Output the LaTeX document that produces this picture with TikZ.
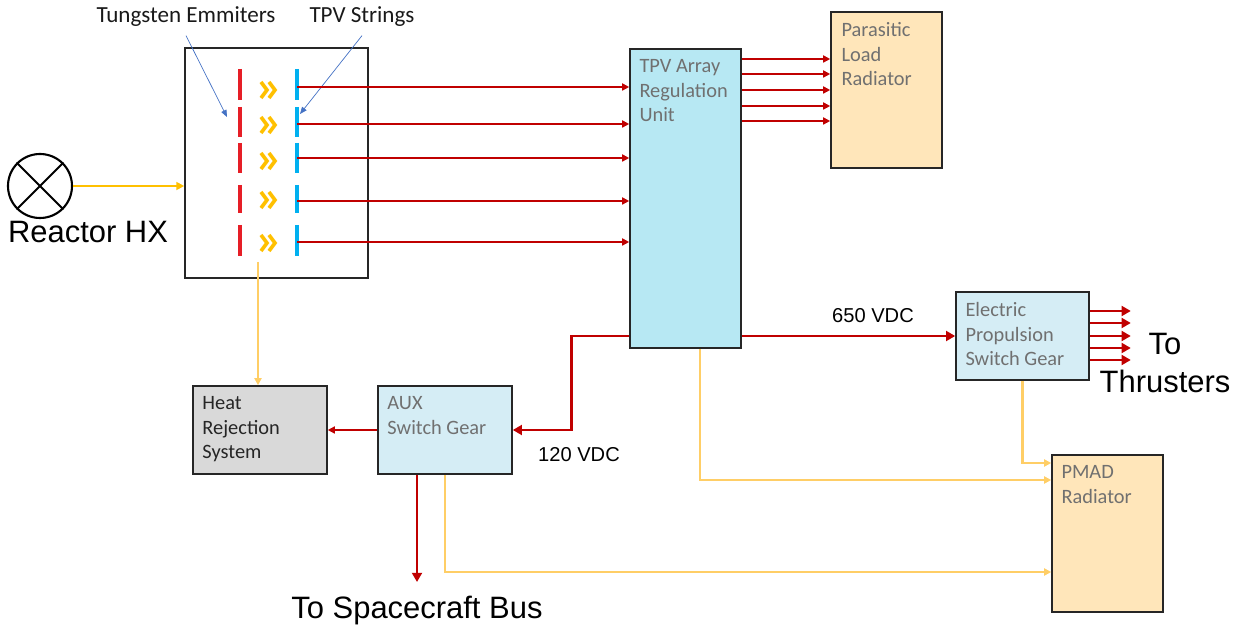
\documentclass[tikz,border=0pt]{standalone}
\usepackage{fontspec}
\setmainfont{Carlito}
\newfontfamily\arialfont{Liberation Sans}
\usepackage{xcolor}
\usetikzlibrary{arrows.meta,positioning}
\definecolor{pwrred}{RGB}{192,0,0}
\definecolor{emitred}{RGB}{230,30,38}
\definecolor{strblue}{RGB}{0,176,240}
\definecolor{heatdk}{RGB}{255,192,0}
\definecolor{heatlt}{RGB}{255,206,102}
\definecolor{noteblue}{RGB}{68,114,196}
\definecolor{tpvfill}{RGB}{183,232,243}
\definecolor{swfill}{RGB}{213,237,245}
\definecolor{peach}{RGB}{255,230,186}
\definecolor{hrsfill}{RGB}{217,217,217}
\definecolor{boxgray}{RGB}{112,112,112}

\begin{document}
\begin{tikzpicture}[x=0.025cm, y=-0.025cm,
  box/.style={draw=black!85, line width=1.1pt, inner sep=0pt},
  lbl/.style={anchor=north west, inner sep=0pt, align=left,
              font=\fontsize{14.5}{17.5}\selectfont, text=boxgray},
  pwr/.style={-{Triangle[length=5pt,width=5pt]}, pwrred, line width=1.1pt},
  bus/.style={-{Triangle[length=6.5pt,width=7pt]}, pwrred, line width=2.1pt},
  heat/.style={-{Triangle[length=5pt,width=5pt]}, heatlt, line width=1.6pt},
  note/.style={-{Triangle[length=5pt,width=4pt]}, noteblue, line width=0.5pt},
  big/.style={font=\arialfont\fontsize{22}{26.5}\selectfont, inner sep=0pt},
  volt/.style={font=\arialfont\fontsize{14.3}{17}\selectfont, inner sep=0pt}
]
\useasboundingbox (0,0) rectangle (1242,628);

% reactor heat exchanger
\node[draw, circle, line width=1.5pt, minimum size=1.6cm, inner sep=0pt] (hx) at (40,186) {};
\draw[line width=1.5pt] (hx.north west) -- (hx.south east) (hx.north east) -- (hx.south west);
\node[big] (hxtxt) at (88,232) {Reactor HX};

% emitter / TPV cell
\node[box, minimum width=4.575cm, minimum height=5.75cm] (cell) at (276.5,163) {};
\draw[-{Triangle[length=5.5pt,width=5.5pt]}, heatdk, line width=2pt] (hx.east) -- (hx.east -| cell.west);
\foreach \a/\b in {69/100,107/137,143/173,185/213,225/256} {
  \draw[emitred, line width=2.6pt] (240,\a) -- (240,\b);
  \draw[strblue, line width=2.2pt] (297,\a) -- (297,\b);
}
\foreach \y in {90,125,161,200,243} {
  \draw[heatdk, line width=2.6pt, miter limit=4] (261,\y-8) -- (267,\y) -- (261,\y+8);
  \draw[heatdk, line width=2.6pt, miter limit=4] (269,\y-8) -- (275,\y) -- (269,\y+8);
}

% annotations
\node[inner sep=0pt, font=\fontsize{16.4}{19}\selectfont, text=black!90] (tetxt) at (186,17) {Tungsten Emmiters};
\node[inner sep=0pt, font=\fontsize{16.4}{19}\selectfont, text=black!90] (tstxt) at (362,17) {TPV Strings};
\coordinate (teend) at (227,117);
\coordinate (tsend) at (300,114);
\draw[note] ([yshift=-6pt]tetxt.south) -- (teend);
\draw[note] ([yshift=-6pt]tstxt.south) -- (tsend);

% boxes
\node[box, fill=tpvfill, minimum width=2.775cm, minimum height=7.475cm] (tpv) at (685.5,198.5) {};
\node[lbl] (tpvtxt) at ([shift={(10,11)}]tpv.north west) {TPV Array\\Regulation\\Unit};
\node[box, fill=peach, minimum width=2.775cm, minimum height=3.9cm] (para) at (886.5,90) {};
\node[lbl] (paratxt) at ([shift={(11,11)}]para.north west) {Parasitic\\Load\\Radiator};
\node[box, fill=swfill, minimum width=3.325cm, minimum height=2.2cm] (ep) at (1022.5,336) {};
\node[lbl] (eptxt) at ([shift={(10,11)}]ep.north west) {Electric\\Propulsion\\Switch Gear};
\node[box, fill=peach, minimum width=2.775cm, minimum height=3.925cm] (pmad) at (1107.5,533.5) {};
\node[lbl] (pmadtxt) at ([shift={(10,11)}]pmad.north west) {PMAD\\Radiator};
\node[box, fill=swfill, minimum width=3.35cm, minimum height=2.2cm] (aux) at (445,430) {};
\node[lbl] (auxtxt) at ([shift={(10,11)}]aux.north west) {AUX\\Switch Gear};
\node[box, fill=hrsfill, minimum width=3.35cm, minimum height=2.2cm] (hrs) at (260,430) {};
\node[lbl, text=black!85] (hrstxt) at ([shift={(10,11)}]hrs.north west) {Heat\\Rejection\\System};

% TPV strings to regulation unit
\foreach \y [count=\i] in {87,124,158,201,242} {
  \coordinate (s\i) at (297,\y);
  \draw[pwr] (s\i) -- (s\i -| tpv.west);
}
\foreach \y in {59,74,90,106,121}
  \draw[pwr] (tpv.east |- 0,\y) -- (para.west |- 0,\y);

% power buses
\draw[bus] (tpv.east |- ep.west) -- (ep.west);
\node[volt] (v650) at (873,316) {650 VDC};
\draw[bus] (tpv.west |- ep.west) -- ++(-58,0) |- (aux.east);
\node[volt] (v120) at (579,455) {120 VDC};
\draw[pwr] (aux.west) -- (hrs.east);
\foreach \y in {311,323,336,348,360}
  \draw[bus] (ep.east |- 0,\y) -- ++(41,0);
\node[big, align=center] (thr) at (1165,363) {To\\Thrusters};
\coordinate (busend) at (417,582);
\draw[bus] (aux.south -| busend) -- (busend);
\node[big, anchor=base] (bustxt) at (417,618) {To Spacecraft Bus};

% heat paths
\coordinate (hsrc) at (258,262);
\draw[heat] (hsrc) -- (hsrc |- hrs.north);
\draw[heat] (ep.south) |- (pmad.west |- 0,463);
\draw[heat] (tpv.south -| 700,0) |- (pmad.west |- 0,480);
\draw[heat] (aux.south) |- (pmad.west |- 0,572);
\end{tikzpicture}
\end{document}
